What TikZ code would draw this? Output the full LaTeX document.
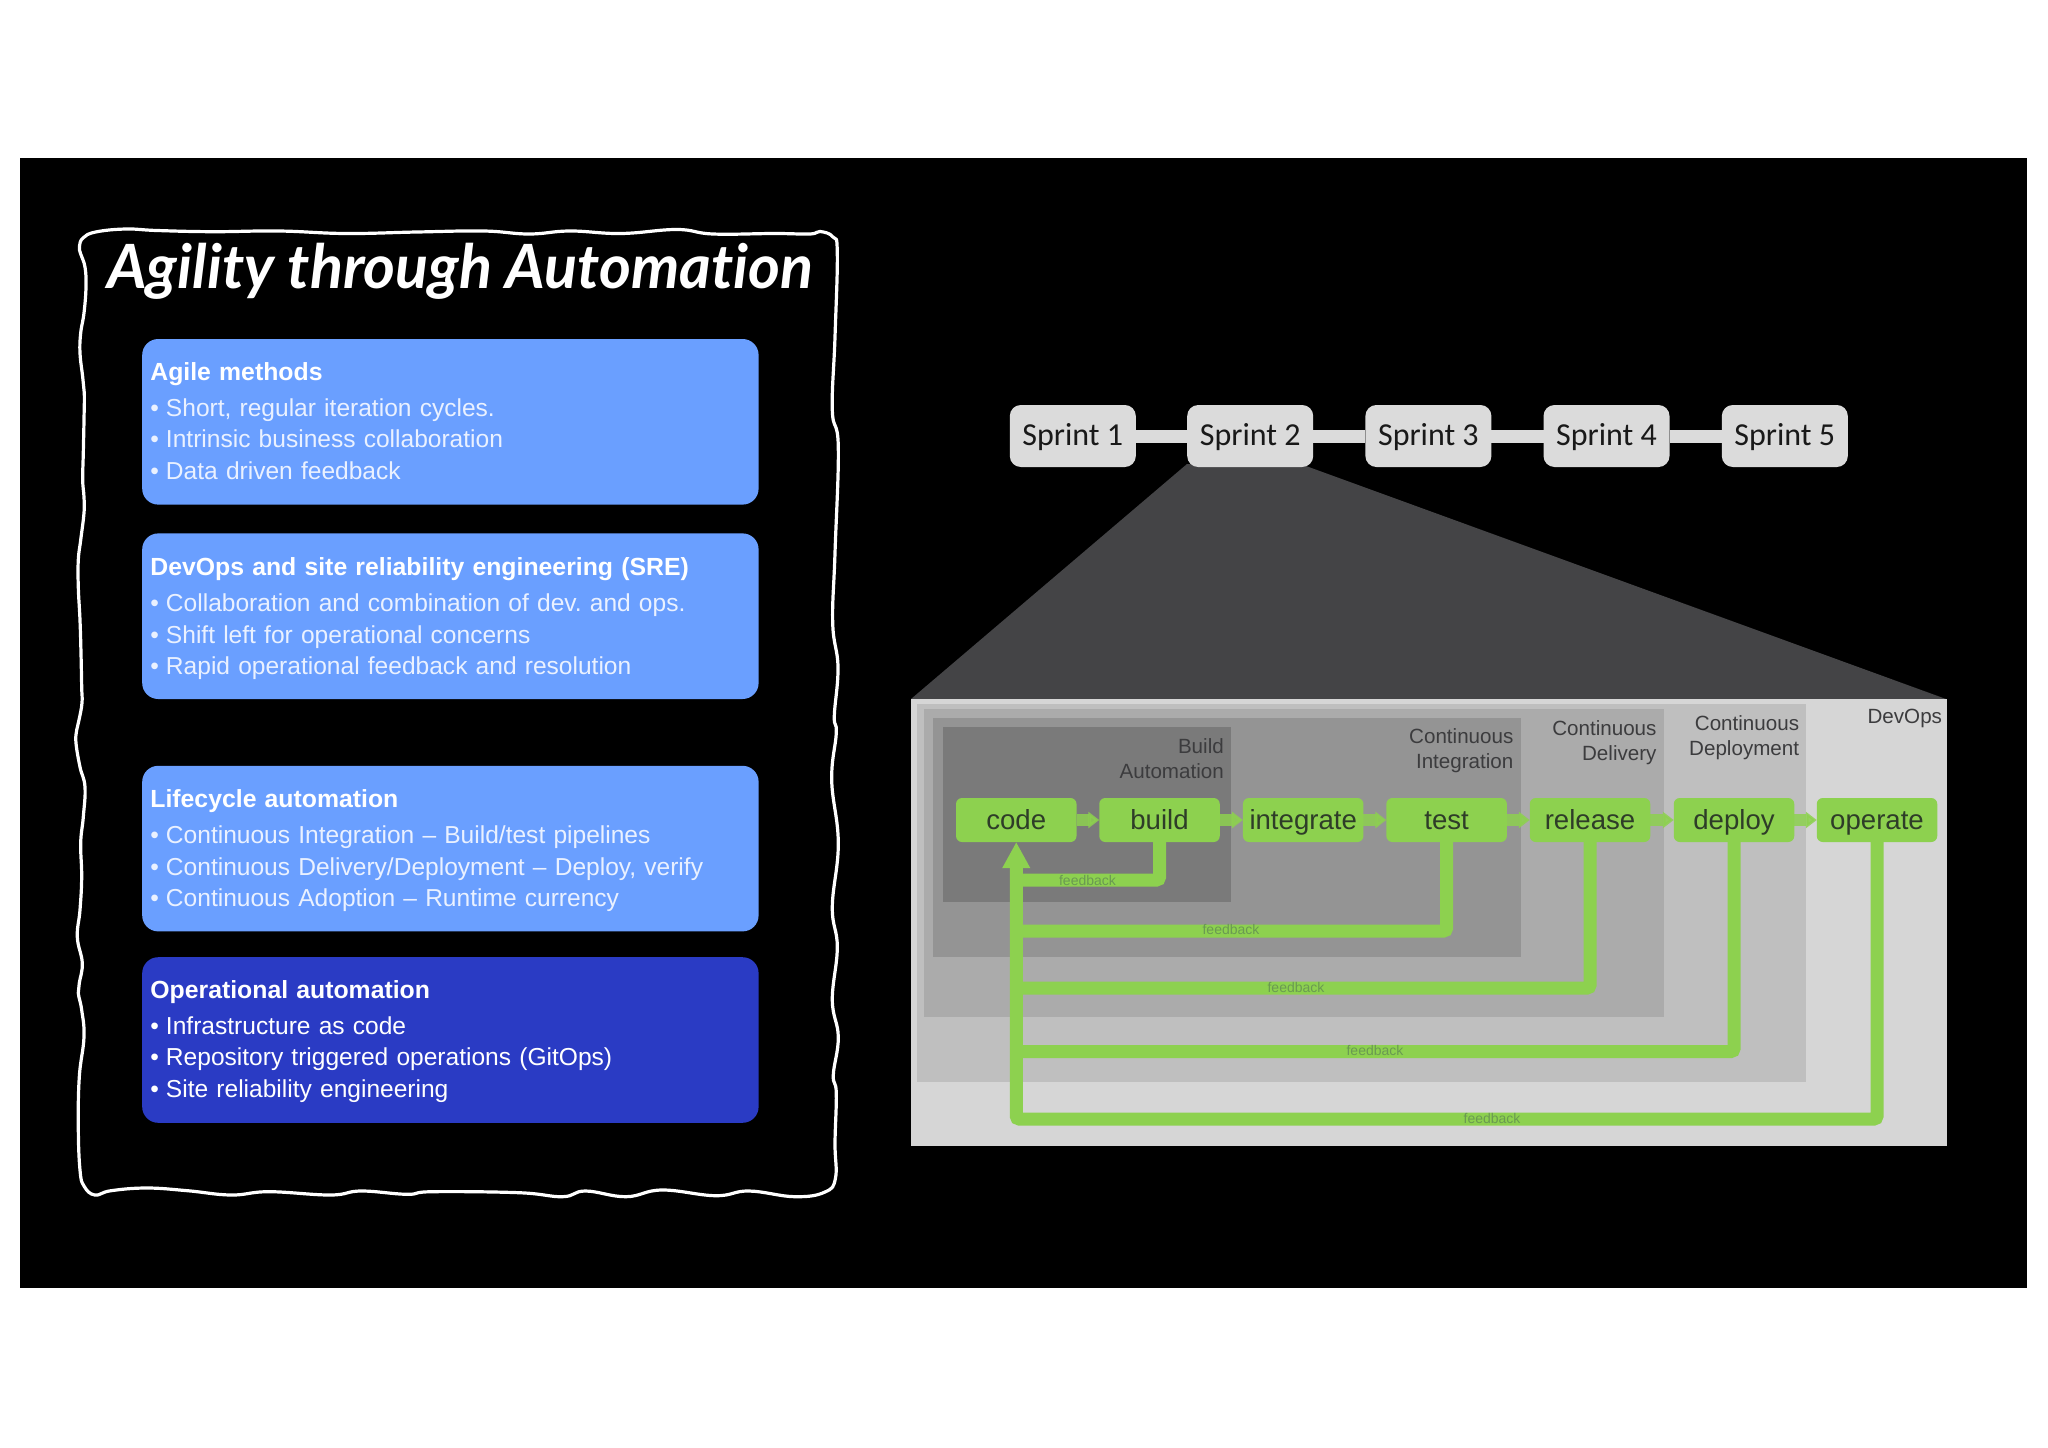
\documentclass[tikz,border=0pt]{standalone}
\usepackage{fontspec}
\usetikzlibrary{arrows.meta,backgrounds}
\setmainfont{Liberation Sans}
\newfontfamily\sprintfont{Carlito}
\newfontfamily\titlefont[Ligatures=NoCommon]{Lato}
\definecolor{lightblue}{HTML}{6A9FFF}
\definecolor{deepblue}{HTML}{2A3BC4}
\definecolor{bodytext}{HTML}{EAF1FF}
\definecolor{stagegreen}{HTML}{8DD14F}
\definecolor{stagetext}{HTML}{2E3D28}
\definecolor{fbtext}{HTML}{6A9A52}
\definecolor{paneltext}{HTML}{3C3C3E}
\definecolor{funnelgrey}{HTML}{444446}
\definecolor{sprintgrey}{HTML}{DBDBDB}
\newcommand\bul{\makebox[15.6pt][l]{\textbullet}}
\newcommand\headline[2]{\rule{0pt}{#1pt}{\fontsize{24.8}{31.7}\selectfont\bfseries\color{white}#2}\\[4.3pt]}
\newcommand\lastrule{\rule[-3pt]{0pt}{3pt}}
\tikzset{
  bluebox/.style={rectangle,rounded corners=16pt,fill=lightblue,text=bodytext,minimum width=616.4pt,minimum height=165.6pt,text width=600pt,inner xsep=8.2pt,inner ysep=0pt,outer sep=0pt,align=left,font=\fontsize{24.55}{31.7}\selectfont\frenchspacing},
  deepbox/.style={bluebox,fill=deepblue,text=white},
  sprintbox/.style={rectangle,rounded corners=11pt,fill=sprintgrey,text=black!90,minimum width=126pt,minimum height=62pt,inner sep=0pt,outer sep=0pt,text height=23pt,text depth=5pt,font=\sprintfont\fontsize{32}{36}\selectfont},
  sprintlink/.style={draw=sprintgrey,line width=13pt},
  stagebox/.style={rectangle,rounded corners=6pt,fill=stagegreen,text=stagetext,minimum width=120.5pt,minimum height=44pt,inner sep=0pt,outer sep=0pt,text height=22.6pt,text depth=3.2pt,font=\fontsize{27.6}{30}\selectfont},
  stagearrow/.style={draw=stagegreen,draw opacity=0.85,fill opacity=0.85,line width=12pt,-{Triangle[length=11pt,width=16pt]}},
  fbline/.style={draw=stagegreen,line width=13pt,rounded corners=3pt},
  fbmain/.style={fbline,-{Triangle[length=26pt,width=26pt]}},
  fblabel/.style={text=fbtext,inner sep=0pt,font=\fontsize{14}{16}\selectfont},
  panellabel/.style={text=paneltext,inner sep=0pt,align=right,anchor=east,font=\fontsize{20.6}{25.3}\selectfont}
}
\begin{document}
\begin{tikzpicture}[x=1pt,y=-1pt]
\useasboundingbox (0,0) rectangle (2048,1448);

% hand drawn frame
\draw[white,line width=3.2pt,line join=round] plot[smooth cycle,tension=0.7] coordinates {
 (79.4,246.7)(80.7,254)(85,267)(86,287)(84,313)(80.7,333)(80,353)(82.7,377)(84.3,393)(84,420)(83.3,453)(82.7,480)(84,497)(84,513)(80.7,540)(78.3,560)(78.3,587)(80,620)(81,653)(81.7,687)(82,703)(79,720)
 (76.7,730)(76,743)(80,767)(85,787)(83.3,817)(80.7,843)(81.7,877)(80,910)(77.3,937)(82.3,963)(79.3,983)(78.3,993)(81.7,1010)(84,1037)(79.3,1077)(78.3,1127)(80,1170)(84,1186)(94.7,1195)
 (111,1190.7)(146.7,1188)(187.5,1190.7)(231,1195)(269,1191.7)(330.4,1195)(361,1191)(407,1194.3)(432.4,1191.7)(519,1192.7)(562.5,1196.7)(585.5,1191)(626,1196.7)(662,1190)(715.6,1195.7)(748.8,1191)(794.7,1196.7)(825,1192)(835.5,1178)
 (835,1143)(836.3,1093)(833.3,1075)(838.3,1037)(832.3,1000)(837.3,947)(832.3,907)(838.3,843)(831.7,780)(836.3,733)(834.3,716)(838,667)(832.7,623)(835,553)(838.3,447)(832.3,410)(835,337)(837.3,253)(833,237)(820,231.5)
 (810,234)(774.3,233.5)(713,234)(677,229.5)(621,233.5)(570,231)(529,234)(483.5,231)(417,232)(345.7,233.5)(279,231)(213,231.7)(157,230.5)(126,229)(95.7,232)(83,238)
};

\node[anchor=base west,inner sep=0pt,text=white] (title) at (107,288.5) {\titlefont\bfseries\itshape\fontsize{61}{63}\selectfont Agility through Automation};

\node[bluebox] (agile) at (450.4,421.8) {\headline{19}{Agile methods}\bul Short, regular iteration cycles.\\\bul Intrinsic business collaboration\\\bul Data driven feedback\lastrule};
\node[bluebox] (sre) at (450.4,616.2) {\headline{23}{DevOps and site reliability engineering (SRE)}\bul Collaboration and combination of dev. and ops.\\\bul Shift left for operational concerns\\\bul Rapid operational feedback and resolution\lastrule};
\node[bluebox] (life) at (450.4,848.6) {\headline{22}{Lifecycle automation}\bul Continuous Integration -- Build/test pipelines\\\bul Continuous Delivery/Deployment -- Deploy, verify\\\bul Continuous Adoption -- Runtime currency\lastrule};
\node[deepbox] (ops) at (450.4,1040) {\headline{21}{Operational automation}\bul Infrastructure as code\\\bul Repository triggered operations (GitOps)\\\bul Site reliability engineering\lastrule};

% sprints
\node[sprintbox] (s1) at (1072.8,436) {Sprint 1};
\node[sprintbox] (s2) at (1250.2,436) {Sprint 2};
\node[sprintbox] (s3) at (1428.4,436) {Sprint 3};
\node[sprintbox] (s4) at (1606.5,436) {Sprint 4};
\node[sprintbox] (s5) at (1784.8,436) {Sprint 5};

\coordinate (funnelA) at (1187,464);
\coordinate (funnelB) at (1306,466);
\coordinate (funnelC) at (1946,699);
\coordinate (funnelD) at (911,699);
\begin{scope}[on background layer]
\fill[white] (0,0) rectangle (2048,1448);
\fill[black] (19.6,158) rectangle (2027,1288);
\fill[funnelgrey] (funnelA) -- (funnelB) -- (funnelC) -- (funnelD) -- cycle;
\draw[sprintlink] (s1) -- (s2);
\draw[sprintlink] (s2) -- (s3);
\draw[sprintlink] (s3) -- (s4);
\draw[sprintlink] (s4) -- (s5);
\end{scope}

% nested panels
\fill[black!16] (911,699) rectangle (1947,1146);
\fill[black!25] (917,703.5) rectangle (1806,1082);
\fill[black!33] (924,708.5) rectangle (1664,1017);
\fill[black!42] (933,718) rectangle (1521,957);
\fill[black!52] (942.5,727) rectangle (1231,902);

\node[panellabel] (lbuild) at (1224,758.8) {Build\\Automation};
\node[panellabel] (lci) at (1513.6,751) {Continuous\\Integration};
\node[panellabel] (lcd) at (1656.7,742.5) {Continuous\\Delivery};
\node[panellabel] (ldep) at (1799.3,737.5) {Continuous\\Deployment};
\node[panellabel] (ldevops) at (1942.2,718.5) {DevOps};

% stages
\node[stagebox] (code) at (1016.25,820) {code};
\node[stagebox] (build) at (1159.5,820) {build};
\node[stagebox] (integrate) at (1303.2,820) {integrate};
\node[stagebox] (test) at (1446.6,820) {test};
\node[stagebox] (release) at (1590,820) {release};
\node[stagebox] (deploy) at (1734,820) {deploy};
\node[stagebox] (operate) at (1877,820) {operate};

\draw[stagearrow] (code) -- (build);
\draw[stagearrow] (build) -- (integrate);
\draw[stagearrow] (integrate) -- (test);
\draw[stagearrow] (test) -- (release);
\draw[stagearrow] (release) -- (deploy);
\draw[stagearrow] (deploy) -- (operate);

% feedback
\coordinate (bus1) at (1016.25,880);
\coordinate (bus2) at (1016.25,931);
\coordinate (bus3) at (1016.25,988);
\coordinate (bus4) at (1016.25,1051.5);
\coordinate (bus5) at (1016.25,1119);
\draw[fbline] (build.south) |- (bus1);
\draw[fbline] (test.south) |- (bus2);
\draw[fbline] (release.south) |- (bus3);
\draw[fbline] (deploy.south) |- (bus4);
\draw[fbmain] (operate.south) |- (bus5) -- (code.south);

\node[fblabel] (f1) at (1087.5,880) {feedback};
\node[fblabel] (f2) at (1231,929) {feedback};
\node[fblabel] (f3) at (1296,987) {feedback};
\node[fblabel] (f4) at (1375,1050) {feedback};
\node[fblabel] (f5) at (1492,1118) {feedback};
\end{tikzpicture}
\end{document}
